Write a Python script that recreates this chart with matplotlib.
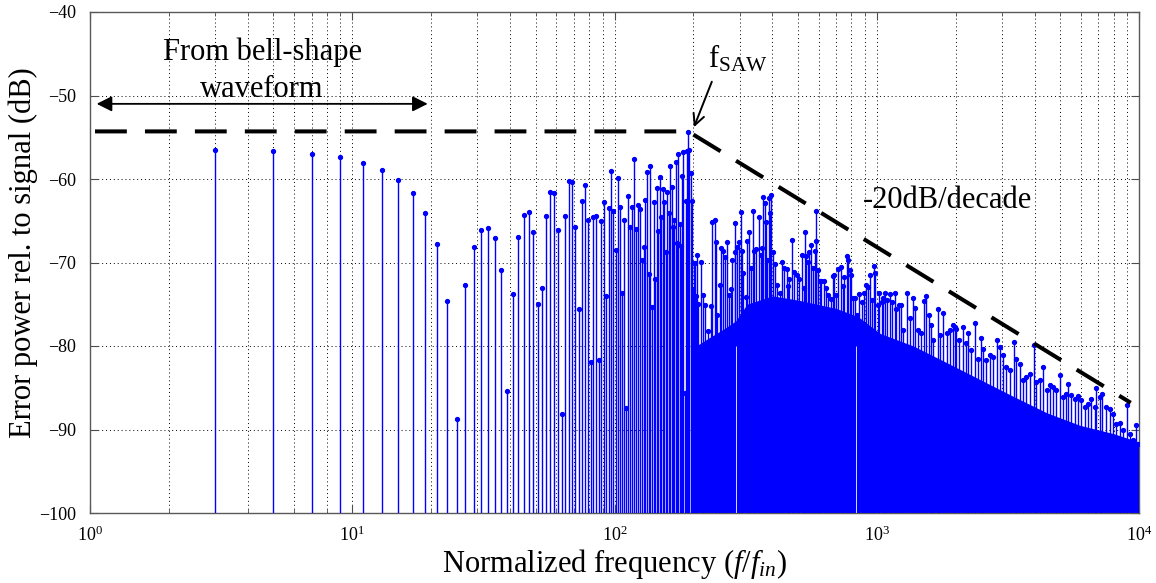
import numpy as np
import matplotlib
matplotlib.use("Agg")
import matplotlib.pyplot as plt
from matplotlib.ticker import LogLocator, NullFormatter

plt.rcParams["font.family"] = ["Liberation Serif", "DejaVu Serif"]
plt.rcParams["mathtext.fontset"] = "custom"
plt.rcParams["mathtext.rm"] = "Liberation Serif"
plt.rcParams["mathtext.it"] = "Liberation Serif:italic"
plt.rcParams["mathtext.bf"] = "Liberation Serif:bold"

# odd harmonics up to f_SAW, each one visible as its own stem
harm_lo = np.arange(3, 198, 2)
db_lo = [-56.5, -56.7, -57.0, -57.4, -58.1, -58.9, -60.1, -61.7, -64.1, -67.8,
         -74.6, -88.7, -72.7, -68.1, -66.1, -65.9, -67.1, -70.9, -85.4, -73.8,
         -66.9, -64.3, -64.0, -66.3, -75.0, -73.1, -64.4, -61.6, -61.7, -66.1,
         -88.2, -64.4, -60.2, -60.4, -65.8, -75.6, -62.6, -60.7, -64.9, -81.9,
         -64.5, -64.4, -81.7, -65.0, -62.7, -74.0, -63.5, -59.1, -63.8, -68.5,
         -59.9, -63.4, -73.7, -64.9, -87.4, -62.0, -65.7, -63.4, -57.6, -66.0,
         -63.1, -63.6, -69.7, -68.1, -62.5, -59.2, -71.4, -58.4, -75.3, -62.8,
         -72.0, -61.1, -66.2, -59.8, -64.5, -61.2, -62.8, -68.8, -61.6, -64.1,
         -58.4, -60.9, -65.8, -64.9, -58.0, -67.7, -57.0, -65.4, -68.0, -59.7,
         -56.8, -85.6, -62.6, -56.6, -54.4, -56.5, -59.3, -62.6]

# visible peaks in the dense part of the spectrum
harm_hi = [199, 201, 203, 205, 207, 209, 213, 217, 221, 227, 233, 235, 241, 243,
           245, 247, 251, 253, 255, 259, 263, 269, 273, 277, 281, 287, 289, 293,
           299, 303, 305, 309, 317, 321, 325, 331, 337, 341, 347, 355, 361, 365,
           369, 375, 379, 383, 387, 391, 395, 401, 409, 415, 419, 427, 435, 443,
           453, 457, 463, 477, 483, 495, 505, 517, 527, 533, 539, 547, 553, 563,
           573, 581, 585, 589, 597, 607, 615, 629, 639, 653, 667, 679, 689, 699,
           713, 729, 741, 751, 767, 779, 789, 801, 813, 825, 843, 857, 875, 893,
           907, 923, 941, 955, 975, 989, 1007, 1021, 1043, 1057, 1075, 1095, 1121,
           1139, 1173, 1189, 1215, 1235, 1261, 1309, 1337, 1377, 1397, 1439, 1481,
           1517, 1547, 1585, 1617, 1641, 1715, 1739, 1791, 1845, 1899, 1945, 1985,
           2013, 2061, 2135, 2185, 2231, 2297, 2367, 2435, 2493, 2545, 2621, 2699,
           2779, 2879, 2947, 3035, 3123, 3217, 3341, 3409, 3511, 3617, 3723, 3835,
           3983, 4065, 4185, 4311, 4439, 4571, 4707, 4845, 4989, 5137, 5289, 5367,
           5527, 5691, 5859, 6033, 6215, 6399, 6589, 6785, 6885, 7089, 7255, 7515,
           7739, 7969, 8205, 8449, 8699, 9013, 9223, 9497, 9721, 9923]
db_hi = [-73.3, -70.1, -70.0, -74.0, -69.1, -75.0, -69.9, -73.9, -75.1, -78.2, -75.2, -65.2, -64.9, -67.6,
         -76.3, -90.5, -81.3, -72.7, -68.3, -68.6, -69.3, -67.6, -73.9, -73.2, -69.7, -68.8, -65.3, -68.1,
         -67.5, -63.9, -68.6, -71.3, -74.1, -67.4, -66.3, -70.7, -63.8, -68.6, -68.4, -64.5, -69.1, -68.3,
         -62.1, -62.9, -65.2, -69.7, -62.3, -64.1, -61.9, -68.7, -70.2, -72.7, -83.2, -73.6, -69.9, -70.7,
         -70.8, -72.8, -72.0, -67.3, -71.1, -71.5, -72.0, -69.1, -73.0, -66.4, -69.2, -69.9, -68.7, -67.9,
         -70.7, -68.6, -67.4, -63.8, -70.9, -72.2, -72.2, -72.2, -73.1, -73.9, -74.4, -71.6, -71.5, -73.9,
         -70.8, -70.5, -72.8, -71.7, -69.2, -69.7, -70.9, -71.5, -74.2, -74.3, -76.3, -73.8, -74.7, -73.7,
         -72.7, -72.9, -71.5, -74.5, -70.4, -71.3, -75.1, -73.6, -74.7, -74.2, -73.7, -74.5, -73.8,
         -74.7, -73.7, -75.6, -75.1, -75.1, -78.1, -73.7, -76.7, -74.3, -75.5, -78.1, -78.5,
         -74.6, -74.0, -76.3, -77.5, -79.3, -75.6, -78.7, -76.1, -78.5, -78.1, -77.5, -77.7,
         -78.0, -79.3, -77.7, -79.7, -78.5, -80.5, -77.2, -81.5, -79.0, -80.3, -81.7, -81.1,
         -81.3, -79.3, -80.1, -81.1, -82.5, -82.9, -79.5, -81.5, -82.1, -84.1, -83.7, -83.3,
         -79.9, -84.3, -84.1, -82.5, -85.3, -84.7, -84.9, -85.3, -83.5, -86.1, -85.7, -84.6,
         -85.9, -86.3, -86.0, -86.5, -87.3, -86.9, -86.3, -87.3, -85.0, -86.1, -85.7, -87.3,
         -87.5, -88.1, -89.3, -89.2, -90.1, -87.1, -90.5, -91.3, -89.5, -91.7]

# top edge of the merged (solid) part of the spectrum
core_f = [205, 230, 260, 290, 320, 400, 500, 700, 850, 1030, 1380, 1850, 2470, 3300, 4450,
          5950, 8000, 10000]
core_db = [-80, -79, -78, -77, -75, -74, -74.5, -75.5, -76.5, -78.5, -80, -82, -84, -86, -88,
           -89.5, -90.5, -91.5]

# harmonics without error power (white gaps in the solid part)
null_f = [291, 833]

# envelope guide: flat up to f_SAW, then -20 dB/decade
guide_f = [1.045, 191, 9300]
guide_db = [-54.3, -54.3, -86.8]

blue = "#0000ff"

fig = plt.figure(figsize=(11.56, 5.83), dpi=100)
ax = fig.add_axes([90 / 1156, 1 - 513 / 583, 1049 / 1156, 501 / 583])
ax.set_xscale("log")

ax.fill_between(core_f, core_db, -100, color=blue, lw=0, zorder=2)
for f, d in ((harm_lo, db_lo), (harm_hi, db_hi)):
    ml, sl, bl = ax.stem(f, d, bottom=-100, linefmt="-", markerfmt="o", basefmt=" ")
    sl.set_color(blue)
    sl.set_linewidth(1.0)
    sl.set_zorder(3)
    ml.set_color(blue)
    ml.set_markersize(2.8)
    ml.set_zorder(3.2)
ax.vlines(null_f, -100, -80, color="white", lw=0.6, zorder=3.1)

ax.plot(guide_f, guide_db, color="k", lw=2.9, dashes=(7.9, 4.5), zorder=4)

ax.set_xlim(1, 1e4)
ax.set_ylim(-100, -40)
ax.set_yticks(np.arange(-100, -39, 10))
ax.xaxis.set_major_locator(LogLocator(base=10, numticks=10))
ax.xaxis.set_minor_locator(LogLocator(base=10, subs=np.arange(2, 10), numticks=50))
ax.xaxis.set_minor_formatter(NullFormatter())

ax.set_axisbelow(True)
ax.grid(True, which="major", color="k", ls=(0, (1, 3)), lw=0.7)
ax.grid(True, which="minor", axis="x", color="k", ls=(0, (1, 3)), lw=0.7)
ax.tick_params(which="both", direction="in", top=True, right=True, labelsize=13, color="0.3")
ax.tick_params(which="major", length=6, width=0.8)
ax.tick_params(which="minor", length=3, width=0.6)
ax.tick_params(axis="x", pad=9)
ax.tick_params(axis="y", pad=10)
for s in ax.spines.values():
    s.set_color("0.35")
    s.set_linewidth(1.0)

ax.set_xlabel(r"Normalized frequency ($f/f_{in}$)", fontsize=22, va="center")
ax.xaxis.set_label_coords(0.5, -(564 - 513) / 501)
ax.set_ylabel("Error power rel. to signal (dB)", fontsize=22, va="center")
ax.yaxis.set_label_coords((23 - 90) / 1049, 0.519)

ax.text(4.53, -45.75, "From bell-shape", fontsize=22, ha="center", va="baseline")
ax.text(4.53, -50.14, "waveform", fontsize=22, ha="center", va="baseline")
ax.annotate("", xy=(1.06, -51.0), xytext=(19.4, -51.0),
            arrowprops=dict(arrowstyle="<|-|>,head_length=0.4,head_width=0.2",
                            color="k", lw=1.3, mutation_scale=23, shrinkA=0, shrinkB=0))

ax.text(227, -46.6, r"$\mathrm{f}_{\mathrm{SAW}}$", fontsize=22, ha="left", va="baseline")
ax.annotate("", xy=(200.8, -53.8), xytext=(235, -48.35),
            arrowprops=dict(arrowstyle="->", color="k", lw=1.4, mutation_scale=20,
                            shrinkA=0, shrinkB=0))

ax.text(885, -63.5, "-20dB/decade", fontsize=22, ha="left", va="baseline")

fig.savefig("out.png", dpi=100)
